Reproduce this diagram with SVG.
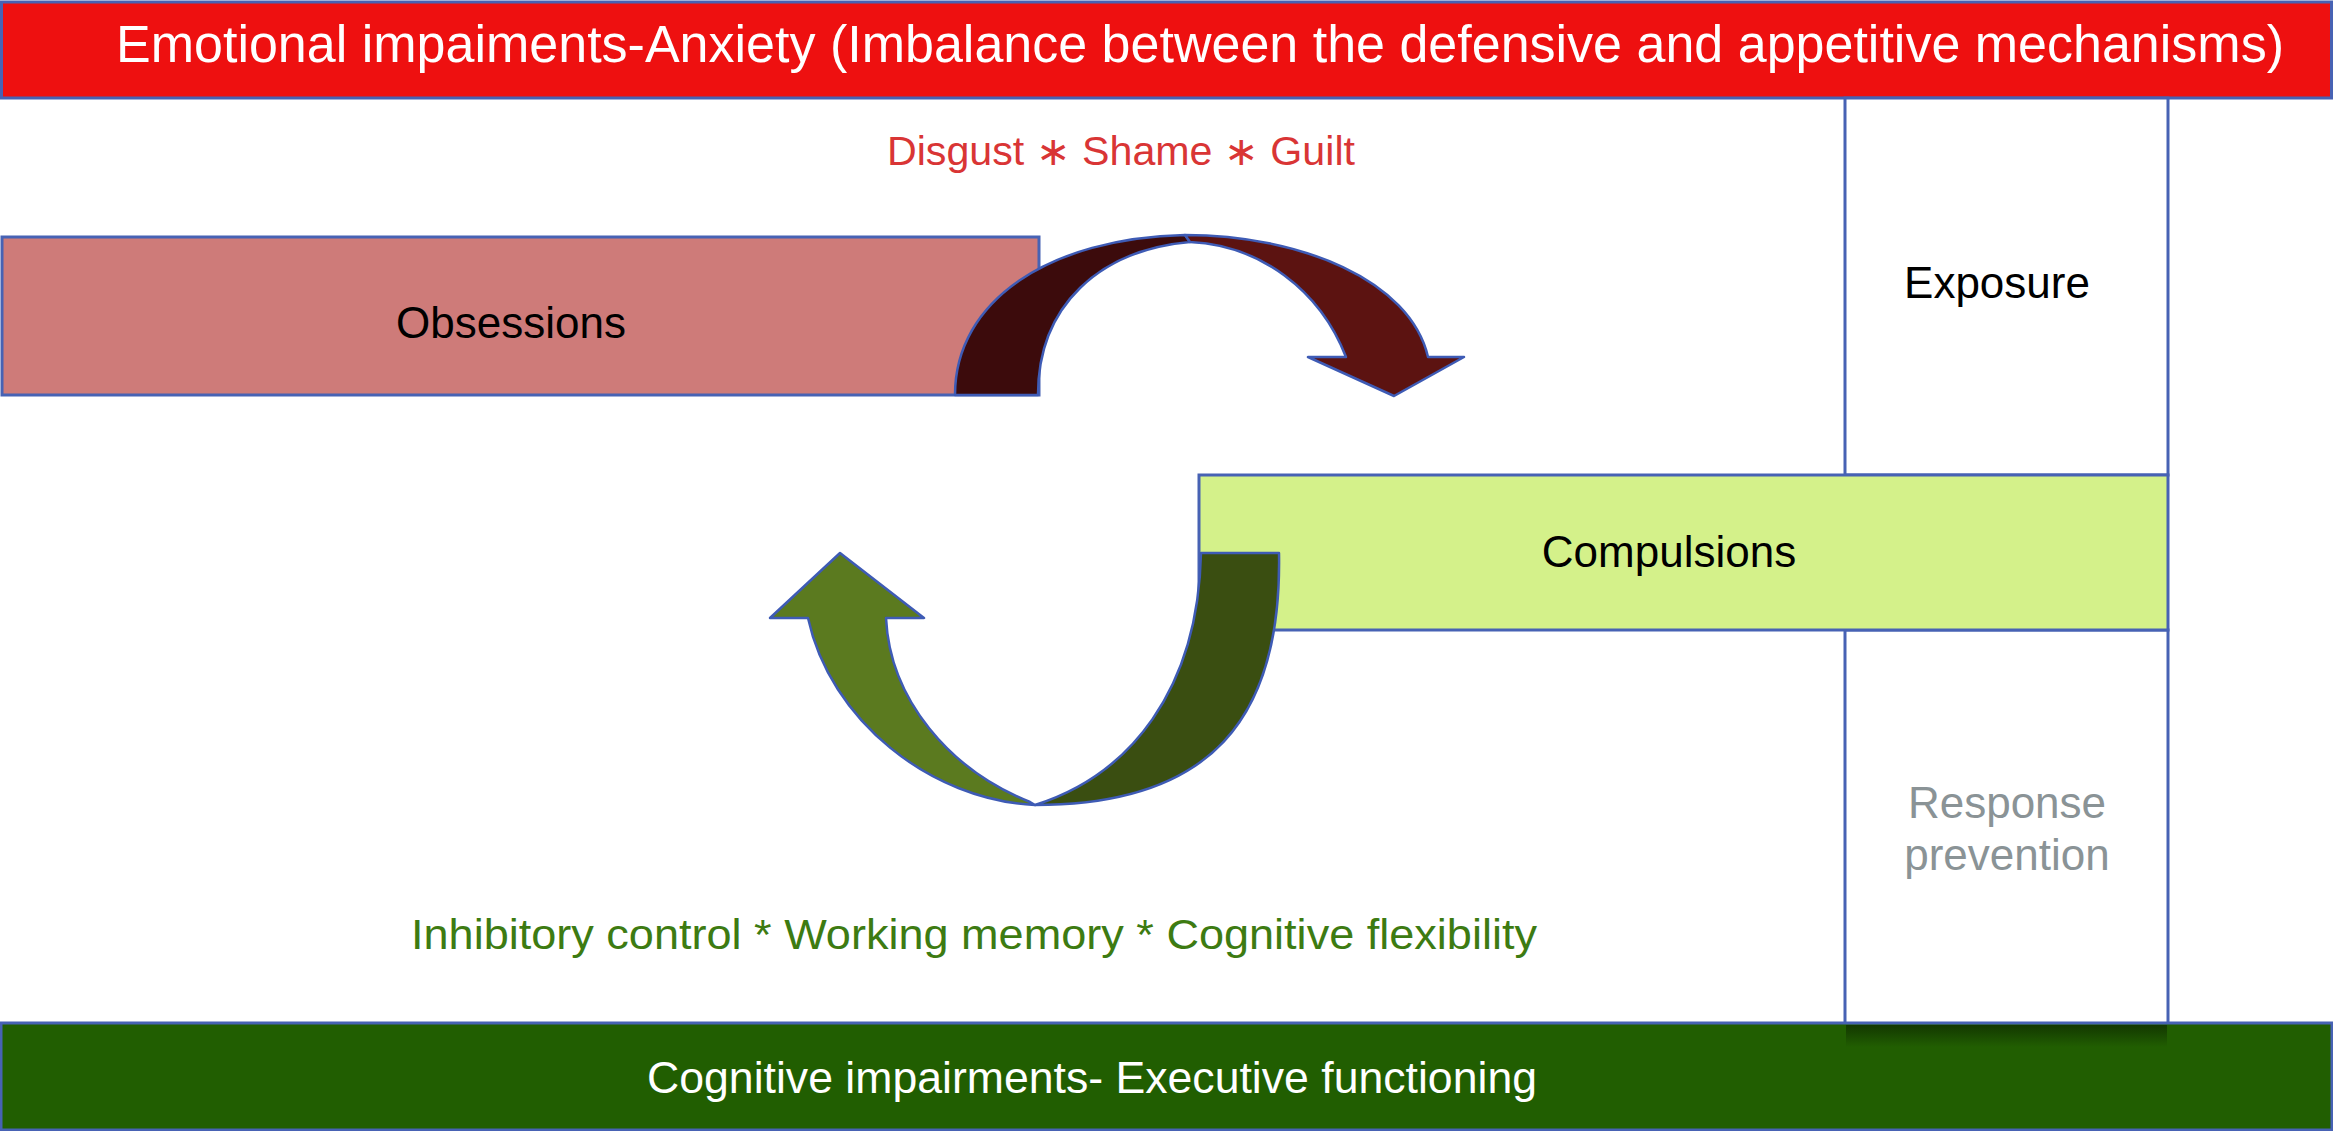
<svg xmlns="http://www.w3.org/2000/svg" width="2333" height="1131" viewBox="0 0 2333 1131">
<style>
.box{stroke:#4762B4;stroke-width:3}
.t{font-family:"Liberation Sans",Arial,sans-serif}
.arr{stroke:#3E5BB5;stroke-width:2.5;stroke-linejoin:round}
</style>
<defs>
<linearGradient id="shadow" x1="0" y1="0" x2="0" y2="1">
<stop offset="0" stop-color="#0F2E00" stop-opacity="0.8"/>
<stop offset="1" stop-color="#0F2E00" stop-opacity="0"/>
</linearGradient>
</defs>
<rect x="0" y="0" width="2333" height="1131" fill="#ffffff"/>
<g id="header">
<rect class="box" x="1.5" y="2" width="2330" height="96" fill="#EE1010"/>
<text class="t" x="116" y="62" font-size="51" fill="#ffffff" textLength="2168" lengthAdjust="spacingAndGlyphs">Emotional impaiments-Anxiety (Imbalance between the defensive and appetitive mechanisms)</text>
</g>
<g id="emotions-label">
<text class="t" x="887" y="165" font-size="40" fill="#D93535" textLength="468" lengthAdjust="spacingAndGlyphs">Disgust ∗ Shame ∗ Guilt</text>
</g>
<g id="exposure">
<rect class="box" x="1845" y="98" width="323" height="377" fill="#ffffff"/>
<text class="t" x="1997" y="298" font-size="44" fill="#000000" text-anchor="middle">Exposure</text>
</g>
<g id="response-prevention">
<rect class="box" x="1845" y="630" width="323" height="394" fill="#ffffff"/>
<text class="t" x="2007" y="818" font-size="44" fill="#8A9396" text-anchor="middle">Response</text>
<text class="t" x="2007" y="870" font-size="44" fill="#8A9396" text-anchor="middle">prevention</text>
</g>
<g id="obsessions">
<rect class="box" x="2" y="237" width="1037" height="158" fill="#CE7B79"/>
<text class="t" x="511" y="338" font-size="44" fill="#000000" text-anchor="middle">Obsessions</text>
</g>
<g id="compulsions">
<rect class="box" x="1199" y="475" width="969" height="155" fill="#D4F18A"/>
<text class="t" x="1669" y="567" font-size="44" fill="#000000" text-anchor="middle">Compulsions</text>
</g>
<g id="bottom">
<rect class="box" x="1" y="1023" width="2331" height="107" fill="#215E01"/>
<rect x="1846" y="1025" width="321" height="22" fill="url(#shadow)"/>
<text class="t" x="1092" y="1093" font-size="44" fill="#ffffff" text-anchor="middle" textLength="890" lengthAdjust="spacingAndGlyphs">Cognitive impairments- Executive functioning</text>
</g>
<g id="executive-label">
<text class="t" x="411" y="949" font-size="43" fill="#3D7B12" textLength="1126" lengthAdjust="spacingAndGlyphs">Inhibitory control * Working memory * Cognitive flexibility</text>
</g>
<g id="connectors">
<g id="obsessions-to-compulsions">
<path class="arr" fill="#3C0B0C" d="M955,395 C955,300 1050,238 1185,235 L1190,242 C1100,250 1038,305 1038,395 Z"/>
<path class="arr" fill="#5C1311" d="M1185,235 C1300,235 1410,280 1428,357 L1464,357 L1394,396 L1308,357 L1346,357 C1320,290 1260,245 1190,242 Z"/>
</g>
<g id="compulsions-to-obsessions">
<path class="arr" fill="#3A4E11" d="M1201,553 L1279,553 C1282,720 1210,805 1035,805 C1130,775 1198,690 1201,553 Z"/>
<path class="arr" fill="#5B7A1F" d="M1035,805 C930,800 830,720 808,618 L770,618 L840,553 L924,618 L886,618 C890,700 950,770 1030,802 Z"/>
</g>
</g>
</svg>
